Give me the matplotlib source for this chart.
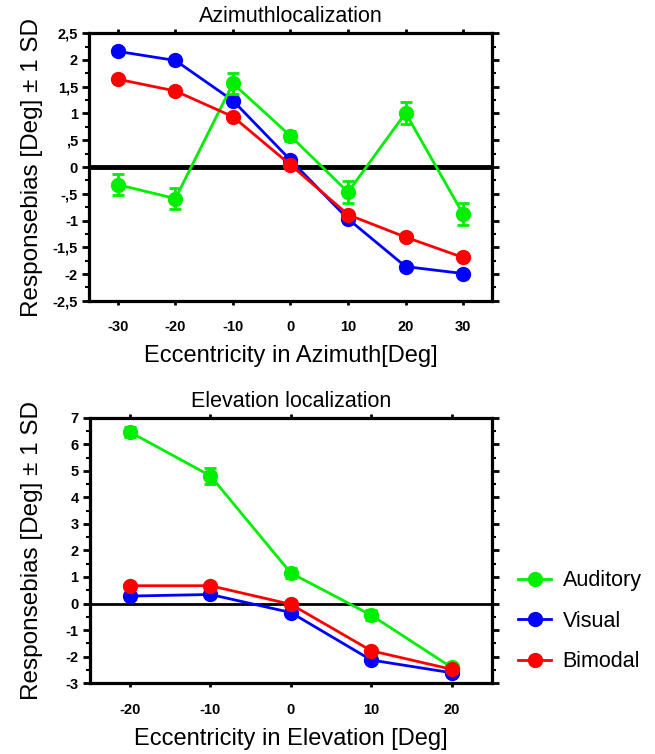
import matplotlib
matplotlib.use("Agg")
import matplotlib.pyplot as plt
import numpy as np
from matplotlib.ticker import MultipleLocator
from matplotlib.lines import Line2D

plt.rcParams['font.family'] = ['Liberation Sans', 'DejaVu Sans']
plt.rcParams['axes.unicode_minus'] = False

# azimuth data (deg)
az_x = [-30, -20, -10, 0, 10, 20, 30]
az_aud = [-0.33, -0.59, 1.56, 0.58, -0.47, 1.01, -0.88]
az_aud_sd = [0.2, 0.2, 0.2, 0.09, 0.2, 0.21, 0.21]
az_vis = [2.16, 1.99, 1.24, 0.13, -0.97, -1.86, -1.99]
az_bim = [1.64, 1.42, 0.94, 0.04, -0.89, -1.31, -1.69]

# elevation data (deg)
el_x = [-20, -10, 0, 10, 20]
el_aud = [6.46, 4.81, 1.15, -0.44, -2.41]
el_aud_sd = [0.2, 0.3, 0.2, 0.2, 0.1]
el_vis = [0.28, 0.34, -0.34, -2.13, -2.61]
el_bim = [0.67, 0.67, -0.03, -1.78, -2.48]

az_yticks = [-2.5, -2, -1.5, -1, -0.5, 0, 0.5, 1, 1.5, 2, 2.5]
az_ylabels = ['-2,5', '-2', '-1,5', '-1', '-,5', '0', ',5', '1', '1,5', '2', '2,5']
el_yticks = [-3, -2, -1, 0, 1, 2, 3, 4, 5, 6, 7]

green = '#00ee00'
blue = '#0000ff'
red = '#ff0000'

fig = plt.figure(figsize=(6.55, 7.54), dpi=100)
ax1 = fig.add_axes([0.136, 0.601, 0.615, 0.355])
ax2 = fig.add_axes([0.137, 0.094, 0.614, 0.352])

ms = 10
lw = 2.0


def style(ax):
    for s in ax.spines.values():
        s.set_linewidth(2.3)
    ax.tick_params(axis='x', which='both', top=True, bottom=True, direction='out',
                   length=3, width=2, labelsize=10.5, pad=11)
    ax.tick_params(axis='y', which='major', left=True, right=True, direction='out',
                   length=5, width=2, labelsize=10.5, pad=3)
    ax.tick_params(axis='y', which='minor', left=True, right=True, direction='out',
                   length=3, width=1.5)
    for lab in ax.get_xticklabels() + ax.get_yticklabels():
        lab.set_fontweight('bold')
    ax.yaxis.set_label_coords(-0.115, 0.5)


def draw(ax, x, aud, aud_sd, vis, bim):
    ax.plot(x, vis, color=blue, lw=lw, marker='o', ms=ms, zorder=3)
    ax.errorbar(x, aud, yerr=aud_sd, color=green, lw=lw, marker='o', ms=ms,
                capsize=4, capthick=2, elinewidth=2, zorder=4)
    ax.plot(x, bim, color=red, lw=lw, marker='o', ms=ms, zorder=5)


# azimuth panel
ax1.axhline(0, color='black', lw=3.5, zorder=2)
draw(ax1, az_x, az_aud, az_aud_sd, az_vis, az_bim)
ax1.set_xlim(-35, 35)
ax1.set_ylim(-2.5, 2.5)
ax1.set_xticks(az_x)
ax1.set_yticks(az_yticks)
ax1.set_yticklabels(az_ylabels)
ax1.yaxis.set_minor_locator(MultipleLocator(0.25))
ax1.set_title('Azimuthlocalization', fontsize=15.5, pad=8)
ax1.set_xlabel('Eccentricity in Azimuth[Deg]', fontsize=17, labelpad=8)
ax1.set_ylabel('Responsebias [Deg] \u00b1 1 SD', fontsize=17.5)
style(ax1)

# elevation panel
ax2.axhline(0, color='black', lw=2, zorder=2)
draw(ax2, el_x, el_aud, el_aud_sd, el_vis, el_bim)
ax2.set_xlim(-25, 25)
ax2.set_ylim(-3, 7)
ax2.set_xticks(el_x)
ax2.set_yticks(el_yticks)
ax2.yaxis.set_minor_locator(MultipleLocator(0.5))
ax2.set_title('Elevation localization', fontsize=15.5, pad=8)
ax2.set_xlabel('Eccentricity in Elevation [Deg]', fontsize=17, labelpad=8)
ax2.set_ylabel('Responsebias [Deg] \u00b1 1 SD', fontsize=17.5)
style(ax2)

handles = [Line2D([], [], color=c, lw=lw, marker='o', ms=ms) for c in (green, blue, red)]
fig.legend(handles, ['Auditory', 'Visual', 'Bimodal'],
           loc='center left', bbox_to_anchor=(0.762, 0.176), frameon=False,
           fontsize=15.5, handlelength=1.5, labelspacing=0.9, handletextpad=0.55)

fig.savefig('out.png', dpi=100)
